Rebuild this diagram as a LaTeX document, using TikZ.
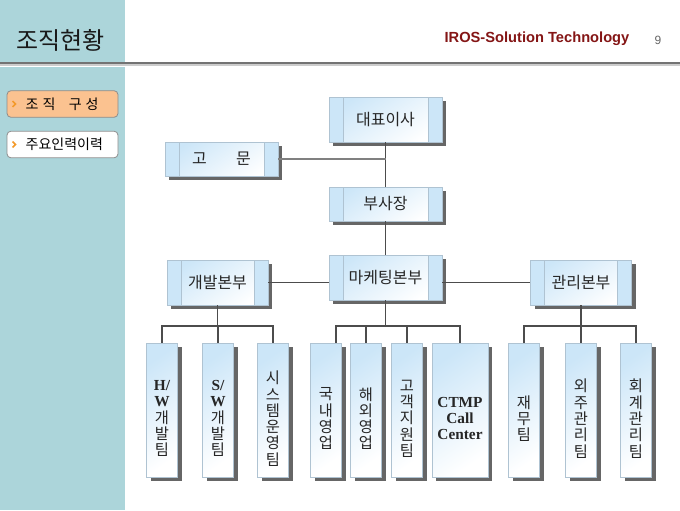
\documentclass[tikz,border=0pt]{standalone}
\usepackage{fontspec}
\setmainfont{Noto Sans CJK KR}
\newfontfamily\latfont{Liberation Serif}
\newfontfamily\hdfont{Liberation Sans}
\usepackage{tikz}
\usetikzlibrary{shadows,calc}
\definecolor{side}{HTML}{ACD5DA}
\definecolor{bxblue}{HTML}{CCE6F8}
\definecolor{bxedge}{HTML}{AFC3D2}
\definecolor{tab}{HTML}{FBC290}
\definecolor{iros}{HTML}{841515}
\definecolor{mk}{HTML}{F39A2A}
\newcommand\lat[1]{{\latfont\bfseries #1}}
\tikzset{
  box/.style={draw=bxedge, line width=0.6pt, top color=bxblue, bottom color=white,
    shading angle=35, text=black!85, inner sep=0pt,
    drop shadow={shadow xshift=3.2pt, shadow yshift=-3.2pt, fill=black!60, opacity=1}},
  bigbox/.style={box, minimum width=84.75pt, minimum height=33.75pt,
    font=\fontsize{12}{14}\selectfont,
    path picture={
      \fill[bxblue] (path picture bounding box.north west) rectangle ([xshift=10.5pt]path picture bounding box.south west);
      \fill[bxblue] (path picture bounding box.north east) rectangle ([xshift=-10.5pt]path picture bounding box.south east);
      \draw[bxedge, line width=0.6pt] ([xshift=10.5pt]path picture bounding box.north west) -- ([xshift=10.5pt]path picture bounding box.south west);
      \draw[bxedge, line width=0.6pt] ([xshift=-10.5pt]path picture bounding box.north east) -- ([xshift=-10.5pt]path picture bounding box.south east);}},
  tallbox/.style={box, minimum height=100.5pt},
  talltext/.style={align=center, inner sep=0pt, text=black!85, font=\fontsize{11.5}{12.2}\selectfont},
  line/.style={draw=black!70, line width=0.8pt},
  tabbox/.style={draw=black!45, line width=0.6pt, rounded corners=3pt, minimum width=83.25pt, minimum height=20pt}
}

\begin{document}
\begin{tikzpicture}[x=0.75pt, y=-0.75pt]
\useasboundingbox (0,0) rectangle (680,510);
\fill[white] (0,0) rectangle (680,510);
\fill[side] (0,0) rectangle (125,61.5);
\fill[side] (0,67) rectangle (125,510);
\draw[black!55, line width=2.2pt] (0,63) -- (680,63);
\draw[black!20, line width=0.8pt] (0,65) -- (680,65);

\node[anchor=west, font=\fontsize{18}{20}\selectfont, text=black!90] (title) at (12,40) {조직현황};
\node[anchor=east, font=\hdfont\bfseries\fontsize{11}{13}\selectfont, text=iros] (iros) at (634,39) {IROS-Solution Technology};
\node[font=\hdfont\fontsize{9}{11}\selectfont, text=black!60] (pg) at (658,40) {9};

\node[tabbox, fill=tab] (t1) at (62.5,104) {};
\node[tabbox, fill=white] (t2) at (62.5,144.5) {};
\draw[mk, line width=1.1pt] ([xshift=4.5pt,yshift=2.2pt]t1.west) -- ++(2.2pt,-2.2pt) -- ++(-2.2pt,-2.2pt);
\draw[mk, line width=1.1pt] ([xshift=4.5pt,yshift=2.2pt]t2.west) -- ++(2.2pt,-2.2pt) -- ++(-2.2pt,-2.2pt);
\node[anchor=west, font=\fontsize{10.5}{12}\selectfont] (t1t) at (21,104) {조\hspace{3pt}직\hspace{10pt}구\hspace{3pt}성};
\node[anchor=west, font=\fontsize{10.5}{12}\selectfont] (t2t) at (21,144.5) {주요인력이력};

\node[bigbox] (ceo) at (385.5,119.5) {대표이사};
\node[bigbox, minimum height=25.5pt] (adv) at (221.5,159) {고\hspace{22pt}문};
\node[bigbox, minimum height=25.5pt] (vp) at (385.5,204) {부사장};
\node[bigbox] (mkt) at (385.5,277.5) {마케팅본부};
\node[bigbox, minimum width=75.75pt] (dev) at (217.5,282.5) {개발본부};
\node[bigbox, minimum width=75.75pt] (mgmt) at (581,282.5) {관리본부};

\foreach \nm/\x/\w/\txt in {
  hw/162/23.25pt/{\lat{H/}\\\lat{W}\\개\\발\\팀},
  sw/218/23.25pt/{\lat{S/}\\\lat{W}\\개\\발\\팀},
  sys/273/23.25pt/{시\\스\\템\\운\\영\\팀},
  kn/326/23.25pt/{국\\내\\영\\업},
  hy/366/23.25pt/{해\\외\\영\\업},
  cs/407/23.25pt/{고\\객\\지\\원\\팀},
  ctmp/460/42pt/{\lat{CTMP}\\\lat{Call}\\\lat{Center}},
  fin/524/23.25pt/{재\\무\\팀},
  out/581/23.25pt/{외\\주\\관\\리\\팀},
  acc/636/23.25pt/{회\\계\\관\\리\\팀}}
{
  \node[tallbox, minimum width=\w] (\nm) at (\x,410) {};
  \node[talltext] (\nm-t) at ([yshift=-6.5pt]\nm.center) {\txt};
}

\coordinate (busy) at (0,326);
\draw[line] (ceo.south) -- (vp.north);
\draw[line, draw=black!50] (adv.east) -- (adv.east -| ceo.south);
\draw[line] (vp.south) -- (mkt.north);
\draw[line] (dev.east) -- (dev.east -| mkt.west);
\draw[line] (mkt.east |- mgmt.west) -- (mgmt.west);

\draw[line] (dev.south) -- (dev.south |- busy);
\draw[line] (hw.north) |- (sys.north |- busy) -- (sys.north);
\draw[line] (sw.north) -- (sw.north |- busy);
\draw[line] (mkt.south) -- (mkt.south |- busy);
\draw[line] ([xshift=7.5pt]kn.north) |- (ctmp.north |- busy) -- (ctmp.north);
\draw[line] (hy.north) -- (hy.north |- busy);
\draw[line] (cs.north) -- (cs.north |- busy);
\draw[line] (mgmt.south) -- (mgmt.south |- busy);
\draw[line] (fin.north) |- (acc.north |- busy) -- (acc.north);
\draw[line] (out.north) -- (out.north |- busy);
\end{tikzpicture}
\end{document}
